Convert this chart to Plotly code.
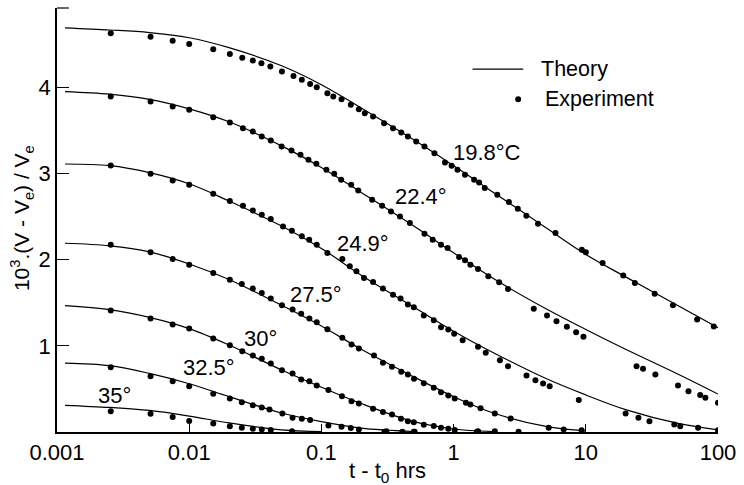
import plotly.graph_objects as go

# ---------------- data ----------------
temps = ["19.8", "22.4", "24.9", "27.5", "30", "32.5", "35"]
temp_labels = ["19.8°C", "22.4°", "24.9°", "27.5°", "30°", "32.5°", "35°"]

theory_x = [0.00115, 0.0025, 0.005, 0.01, 0.02, 0.05, 0.1, 0.2, 0.5, 1, 2, 5, 10, 20, 50, 100]
theory_19_8 = [4.69, 4.665, 4.635, 4.575, 4.46, 4.25, 4.03, 3.76, 3.39, 3.09, 2.78, 2.37, 2.06, 1.80, 1.465, 1.21]
theory_22_4 = [3.95, 3.92, 3.86, 3.75, 3.60, 3.32, 3.07, 2.78, 2.39, 2.08, 1.78, 1.43, 1.19, 0.96, 0.67, 0.44]
theory_24_9 = [3.11, 3.09, 3.01, 2.88, 2.68, 2.39, 2.13, 1.82, 1.45, 1.17, 0.92, 0.62, 0.43, 0.26, 0.10, 0.025]
theory_27_5 = [2.19, 2.16, 2.09, 1.95, 1.77, 1.47, 1.23, 0.96, 0.64, 0.41, 0.22, 0.065, 0.012]
theory_30 = [1.467, 1.42, 1.33, 1.20, 1.01, 0.72, 0.52, 0.33, 0.12, 0.035, 0.006]
theory_32_5 = [0.80, 0.77, 0.68, 0.56, 0.41, 0.22, 0.12, 0.045, 0.006]
theory_35 = [0.31, 0.285, 0.25, 0.185, 0.105, 0.025, 0.004]

exp_x_19_8 = [0.00255, 0.0051, 0.0075, 0.01, 0.0152, 0.0203, 0.0252, 0.0303, 0.0352, 0.0411, 0.0503,
              0.0615, 0.0711, 0.0822, 0.0922, 0.111, 0.123, 0.142, 0.167, 0.192, 0.213, 0.246, 0.298,
              0.348, 0.402, 0.451, 0.521, 0.602, 0.716, 0.861, 0.966, 1.07, 1.22, 1.43, 1.56, 1.72,
              2.14, 2.62, 3.06, 3.55, 4.35, 5.9, 9.33, 10.0, 13.4, 19.2, 23.5, 33.2, 45.6, 69.5, 92.9]
exp_y_19_8 = [4.627, 4.587, 4.541, 4.503, 4.441, 4.387, 4.344, 4.310, 4.279, 4.240, 4.182,
              4.132, 4.086, 4.039, 4.001, 3.932, 3.892, 3.862, 3.796, 3.746, 3.700, 3.661, 3.584,
              3.526, 3.475, 3.429, 3.371, 3.313, 3.236, 3.127, 3.089, 3.043, 2.985, 2.927, 2.896, 2.831,
              2.753, 2.669, 2.591, 2.510, 2.417, 2.309, 2.116, 2.085, 1.962, 1.815, 1.730, 1.603, 1.470, 1.305, 1.224]

exp_x_22_4 = [0.00255, 0.0051, 0.0075, 0.01, 0.0152, 0.0203, 0.0255, 0.0303, 0.0354, 0.0414, 0.05,
              0.0594, 0.0695, 0.0798, 0.0916, 0.109, 0.125, 0.141, 0.168, 0.19, 0.242, 0.288, 0.336,
              0.393, 0.467, 0.602, 0.695, 0.803, 0.901, 1.10, 1.22, 1.34, 1.53, 1.83, 2.21, 2.58,
              4.04, 5.09, 6.0, 7.19, 8.45, 9.6, 24.2, 27.1, 33.6, 49.8, 59.8, 73.3, 80.3, 100]
exp_y_22_4 = [3.892, 3.834, 3.776, 3.738, 3.653, 3.591, 3.526, 3.487, 3.429, 3.383, 3.313,
              3.267, 3.217, 3.159, 3.113, 3.043, 2.997, 2.927, 2.869, 2.803, 2.695, 2.626, 2.560,
              2.502, 2.425, 2.301, 2.232, 2.174, 2.135, 2.031, 1.992, 1.942, 1.892, 1.806, 1.737, 1.660,
              1.429, 1.351, 1.285, 1.220, 1.158, 1.104, 0.764, 0.733, 0.667, 0.540, 0.474, 0.428, 0.397, 0.340]

exp_x_24_9 = [0.00255, 0.0051, 0.0075, 0.01, 0.0152, 0.0203, 0.0255, 0.0303, 0.0354, 0.0414, 0.0512,
              0.0598, 0.0711, 0.0808, 0.0922, 0.111, 0.144, 0.164, 0.184, 0.210, 0.246, 0.292, 0.348,
              0.397, 0.451, 0.50, 0.595, 0.708, 0.803, 0.912, 1.01, 1.17, 1.53, 1.75, 2.24, 2.58,
              3.56, 4.16, 4.75, 5.33, 8.85, 20.0, 25.0, 30.3, 46.7, 51.8, 70.7, 100]
exp_y_24_9 = [3.093, 2.997, 2.919, 2.869, 2.765, 2.680, 2.626, 2.571, 2.521, 2.472, 2.386,
              2.336, 2.270, 2.232, 2.174, 2.078, 2.008, 1.923, 1.865, 1.788, 1.741, 1.664, 1.594,
              1.548, 1.479, 1.447, 1.351, 1.297, 1.216, 1.189, 1.139, 1.065, 0.988, 0.919, 0.833, 0.764,
              0.656, 0.601, 0.563, 0.532, 0.370, 0.215, 0.166, 0.126, 0.088, 0.068, 0.05, 0.019]

exp_x_27_5 = [0.00255, 0.0051, 0.0075, 0.01, 0.0152, 0.0203, 0.025, 0.0303, 0.0354, 0.0414, 0.0503,
              0.0605, 0.0703, 0.0811, 0.0922, 0.111, 0.144, 0.169, 0.192, 0.250, 0.292, 0.342, 0.402,
              0.451, 0.502, 0.595, 0.708, 0.803, 0.912, 1.02, 1.24, 1.34, 1.60, 2.05, 2.70, 5.24, 6.8, 9.3]
exp_y_27_5 = [2.174, 2.085, 2.008, 1.942, 1.846, 1.768, 1.718, 1.664, 1.614, 1.548, 1.470,
              1.421, 1.371, 1.316, 1.273, 1.193, 1.093, 1.015, 0.969, 0.888, 0.803, 0.757, 0.700,
              0.667, 0.618, 0.567, 0.513, 0.462, 0.424, 0.390, 0.340, 0.320, 0.275, 0.216, 0.156, 0.050, 0.03, 0.02]

exp_x_30 = [0.00255, 0.0051, 0.0075, 0.01, 0.0152, 0.0203, 0.0252, 0.0303, 0.0354, 0.0414, 0.0503,
            0.0605, 0.0703, 0.0811, 0.0922, 0.113, 0.143, 0.169, 0.192, 0.246, 0.292, 0.342, 0.40,
            0.451, 0.50, 0.595, 0.708, 0.803, 0.912, 1.02, 1.53, 2.05, 3.1]
exp_y_30 = [1.409, 1.316, 1.247, 1.200, 1.085, 1.007, 0.937, 0.888, 0.849, 0.795, 0.717,
            0.679, 0.609, 0.590, 0.540, 0.486, 0.416, 0.358, 0.331, 0.270, 0.231, 0.204, 0.154,
            0.126, 0.112, 0.085, 0.069, 0.05, 0.039, 0.023, 0.01, 0.01, 0.003]

exp_x_32_5 = [0.00255, 0.0051, 0.0075, 0.01, 0.0152, 0.0203, 0.025, 0.0303, 0.0354, 0.0405, 0.0507,
              0.0605, 0.0711, 0.0822, 0.113, 0.142, 0.167, 0.192, 0.31, 0.41, 0.507]
exp_y_32_5 = [0.752, 0.648, 0.590, 0.532, 0.444, 0.389, 0.346, 0.31, 0.285, 0.262, 0.216,
              0.166, 0.154, 0.138, 0.076, 0.061, 0.045, 0.030, 0.01, 0.004, 0.004]

exp_x_35 = [0.00255, 0.0051, 0.0075, 0.01, 0.0152, 0.0203, 0.025, 0.0303, 0.0354, 0.0414, 0.06,
            0.3, 0.5, 1.5]
exp_y_35 = [0.242, 0.212, 0.175, 0.127, 0.098, 0.066, 0.048, 0.038, 0.03, 0.022, 0.01,
            0.002, 0.002, 0.002]

x_tick_vals = [0.001, 0.01, 0.1, 1, 10, 100]
x_tick_text = ["0.001", "0.01", "0.1", "1", "10", "100"]
y_tick_vals = [1, 2, 3, 4]

# label anchor positions (log10 x, y)
label_pos = [(0.256, 3.24), (-0.248, 2.73), (-0.685, 2.19), (-1.038, 1.60),
             (-1.459, 1.08), (-1.85, 0.75), (-2.564, 0.42)]

theories = [theory_19_8, theory_22_4, theory_24_9, theory_27_5, theory_30, theory_32_5, theory_35]
exps = [(exp_x_19_8, exp_y_19_8), (exp_x_22_4, exp_y_22_4), (exp_x_24_9, exp_y_24_9),
        (exp_x_27_5, exp_y_27_5), (exp_x_30, exp_y_30), (exp_x_32_5, exp_y_32_5), (exp_x_35, exp_y_35)]

FONT = "Liberation Sans, Arial, sans-serif"

fig = go.Figure()
for name, ty in zip(temps, theories):
    fig.add_trace(go.Scatter(x=theory_x[:len(ty)], y=ty, mode="lines", name="Theory " + name,
                             line=dict(color="black", width=1.2, shape="spline"),
                             showlegend=False, hoverinfo="skip"))
for name, (ex, ey) in zip(temps, exps):
    fig.add_trace(go.Scatter(x=ex, y=ey, mode="markers", name="Experiment " + name,
                             marker=dict(color="black", size=6), showlegend=False))

annotations = []
for lab, (lx, ly) in zip(temp_labels, label_pos):
    annotations.append(dict(x=lx, y=ly, xref="x", yref="y", text=lab, showarrow=False,
                            xanchor="center", yanchor="middle",
                            font=dict(size=22, color="black", family=FONT)))

# axis titles
annotations.append(dict(x=0.5, y=-0.094, xref="paper", yref="paper", text="t - t<sub>0</sub> hrs",
                        xanchor="center", yanchor="middle",
                        showarrow=False, font=dict(size=22, color="black", family=FONT)))
annotations.append(dict(x=-0.0526, y=0.505, xref="paper", yref="paper",
                        text="10<sup>3</sup>.(V - V<sub>e</sub>) / V<sub>e</sub>", textangle=-90,
                        xanchor="center", yanchor="middle",
                        showarrow=False, font=dict(size=21, color="black", family=FONT)))
# legend texts
annotations.append(dict(x=0.729, y=0.856, xref="paper", yref="paper", text="Theory",
                        xanchor="left", yanchor="middle",
                        showarrow=False, font=dict(size=21.5, color="black", family=FONT)))
annotations.append(dict(x=0.735, y=0.785, xref="paper", yref="paper", text="Experiment",
                        xanchor="left", yanchor="middle",
                        showarrow=False, font=dict(size=21.5, color="black", family=FONT)))

shapes = [
    dict(type="line", xref="paper", yref="paper", x0=0.6286, x1=0.7053, y0=0.856, y1=0.856,
         line=dict(color="black", width=1.2)),
    dict(type="circle", xref="paper", yref="paper", x0=0.6977 - 0.0045, x1=0.6977 + 0.0045,
         y0=0.785 - 0.007, y1=0.785 + 0.007, fillcolor="black", line=dict(color="black", width=0)),
    dict(type="line", xref="paper", yref="paper", x0=0, x1=0.018, y0=1, y1=1,
         line=dict(color="black", width=1.2)),
]

fig.update_layout(
    width=744, height=485,
    margin=dict(l=57, r=22, t=8, b=53),
    paper_bgcolor="white", plot_bgcolor="white",
    font=dict(family=FONT, size=22, color="black"),
    annotations=annotations, shapes=shapes,
    xaxis=dict(type="log", range=[-3, 2], tickvals=x_tick_vals, ticktext=x_tick_text,
               ticks="inside", ticklen=8, tickwidth=1, tickcolor="black",
               showline=True, linecolor="black", linewidth=1.5, showgrid=False, zeroline=False,
               tickfont=dict(size=22, family=FONT)),
    yaxis=dict(range=[0, 4.92], tickvals=y_tick_vals, ticks="inside", ticklen=12, tickwidth=1,
               tickcolor="black", showline=True, linecolor="black", linewidth=1.5,
               showgrid=False, zeroline=False, tickfont=dict(size=22, family=FONT)),
)

fig.write_html("out.html", config={"displayModeBar": False},
               post_script="document.body.style.margin='0';")
